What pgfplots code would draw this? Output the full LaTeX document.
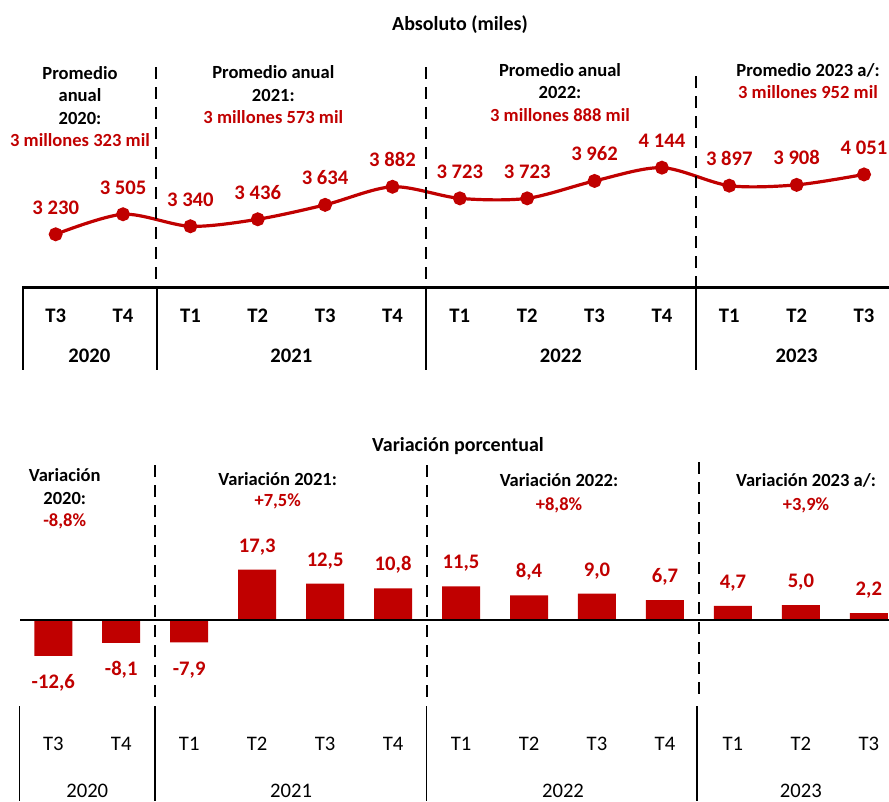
\documentclass[border=0pt]{standalone}
\usepackage{pgfplots}
\pgfplotsset{compat=1.18}
\usepackage{fontspec}
\setmainfont{Carlito}
\definecolor{rojo}{HTML}{C00000}

\begin{document}
\begin{tikzpicture}[x=0.75pt,y=-0.75pt,
  ann/.style={font=\bfseries\fontsize{13.9}{16}\selectfont, anchor=base, inner sep=0pt},
  annr/.style={ann, text=rojo},
  ttl/.style={font=\bfseries\fontsize{15}{18}\selectfont, anchor=base, inner sep=0pt},
  sep/.style={line width=1.5pt, dash pattern=on 9pt off 6pt},
]
\useasboundingbox (0,0) rectangle (889,801);

% ---------- Absoluto (miles) ----------
\begin{axis}[
  at={(16.5pt,-216pt)}, anchor=south west,
  width=650.25pt, height=171pt, scale only axis,
  xmin=-0.5, xmax=12.371, ymin=2493, ymax=5621,
  axis line style={draw=none}, ytick=\empty,
  major tick length=0pt,
  xtick={0,...,12},
  xticklabels={T3,T4,T1,T2,T3,T4,T1,T2,T3,T4,T1,T2,T3},
  xticklabel style={font=\bfseries\fontsize{15.5}{18}\selectfont, anchor=base, yshift=-26pt, inner sep=0pt},
  extra x ticks={0.5,3.5,7.5,11},
  extra x tick labels={2020,2021,2022,2023},
  extra x tick style={xticklabel style={yshift=-30pt}},
  clip=false,
]
\addplot[rojo, line width=2.4pt, smooth, mark=*, mark size=4pt,
  mark options={fill=rojo, draw=rojo},
  nodes near coords={\pgfplotspointmeta}, point meta=explicit symbolic,
  every node near coord/.append style={font=\bfseries\fontsize{15.5}{18}\selectfont,
    text=rojo, anchor=base, yshift=15pt, inner sep=0pt}]
coordinates {
  (0,3230) [3 230]
  (1,3505) [3 505]
  (2,3340) [3 340]
  (3,3436) [3 436]
  (4,3634) [3 634]
  (5,3882) [3 882]
  (6,3723) [3 723]
  (7,3723) [3 723]
  (8,3962) [3 962]
  (9,4144) [4 144]
  (10,3897) [3 897]
  (11,3908) [3 908]
  (12,4051) [4 051]
};
\end{axis}

% ---------- Variación porcentual ----------
\begin{axis}[
  at={(14.475pt,-525pt)}, anchor=south west,
  width=652.3pt, height=180pt, scale only axis,
  xmin=-0.5, xmax=12.297, ymin=-27.95, ymax=55.4,
  ybar, bar width=28.5pt,
  axis line style={draw=none}, ytick=\empty,
  major tick length=0pt,
  xtick={0,...,12},
  xticklabels={T3,T4,T1,T2,T3,T4,T1,T2,T3,T4,T1,T2,T3},
  xticklabel style={font=\fontsize{15.5}{18}\selectfont, anchor=base, yshift=-37.5pt, inner sep=0pt},
  extra x ticks={0.5,3.5,7.5,11},
  extra x tick labels={2020,2021,2022,2023},
  extra x tick style={xticklabel style={yshift=-35.4pt}},
  clip=false,
]
\addplot[fill=rojo, draw=none, bar shift=0pt,
  nodes near coords={\pgfplotspointmeta}, point meta=explicit symbolic,
  every node near coord/.append style={font=\bfseries\fontsize{15.5}{18}\selectfont,
    text=rojo, anchor=base, yshift=13.1pt, inner sep=0pt}]
coordinates {
  (3,17.3) [17,3]
  (4,12.5) [12,5]
  (5,10.8) [10,8]
  (6,11.5) [11,5]
  (7,8.4) [8,4]
  (8,9.0) [9,0]
  (9,6.7) [6,7]
  (10,4.7) [4,7]
  (11,5.0) [5,0]
  (12,2.2) [2,2]
};
\addplot[fill=rojo, draw=none, bar shift=0pt,
  nodes near coords={\pgfplotspointmeta}, point meta=explicit symbolic,
  every node near coord/.append style={font=\bfseries\fontsize{15.5}{18}\selectfont,
    text=rojo, anchor=base, yshift=-24.8pt, inner sep=0pt}]
coordinates {
  (0,-12.6) [-12,6]
  (1,-8.1) [-8,1]
  (2,-7.9) [-7,9]
};
\end{axis}

% titles
\node[ttl] at (460,30) {Absoluto (miles)};
\node[ttl] at (458,451.5) {Variación porcentual};

% top annotations
\node[ann] at (80,79) {Promedio};
\node[ann] at (80,101.5) {anual};
\node[ann] at (80,124) {2020:};
\node[annr] at (80,146.5) {3 millones 323 mil};
\node[ann] at (273.3,78.3) {Promedio anual};
\node[ann] at (273.3,101) {2021:};
\node[annr] at (273.3,123.3) {3 millones 573 mil};
\node[ann] at (560,76) {Promedio anual};
\node[ann] at (560,98.5) {2022:};
\node[annr] at (560,121) {3 millones 888 mil};
\node[ann] at (808,76) {Promedio 2023 a/:};
\node[annr] at (808,98.5) {3 millones 952 mil};

% bottom annotations
\node[ann] at (64.7,481.7) {Variación};
\node[ann] at (64.7,504) {2020:};
\node[annr] at (64.7,526) {-8,8\%};
\node[ann] at (277.7,485) {Variación 2021:};
\node[annr] at (277.7,506.7) {+7,5\%};
\node[ann] at (559,486.7) {Variación 2022:};
\node[annr] at (559,510) {+8,8\%};
\node[ann] at (806,486.7) {Variación 2023 a/:};
\node[annr] at (806,510) {+3,9\%};

% separators, top
\draw[sep] (155.5,67) -- (155.5,287.5);
\draw[sep] (425.5,67) -- (425.5,287.5);
\draw[sep] (696,76) -- (696,287.5);
\draw[line width=1.6pt] (22,287.5) -- (889,287.5);
\foreach \xx in {22.7,156.7,426,696} \draw[line width=1.2pt] (\xx,287.5) -- (\xx,370);

% separators, bottom
\draw[line width=1.5pt] (20,619.5) -- (889,619.5);
\draw[sep] (155,465) -- (155,698);
\draw[sep] (427,465) -- (427,698);
\draw[sep] (699,462) -- (699,698);
\foreach \xx in {19.5,155,426.3,697} \draw[line width=1.2pt] (\xx,706) -- (\xx,801);
\end{tikzpicture}
\end{document}
